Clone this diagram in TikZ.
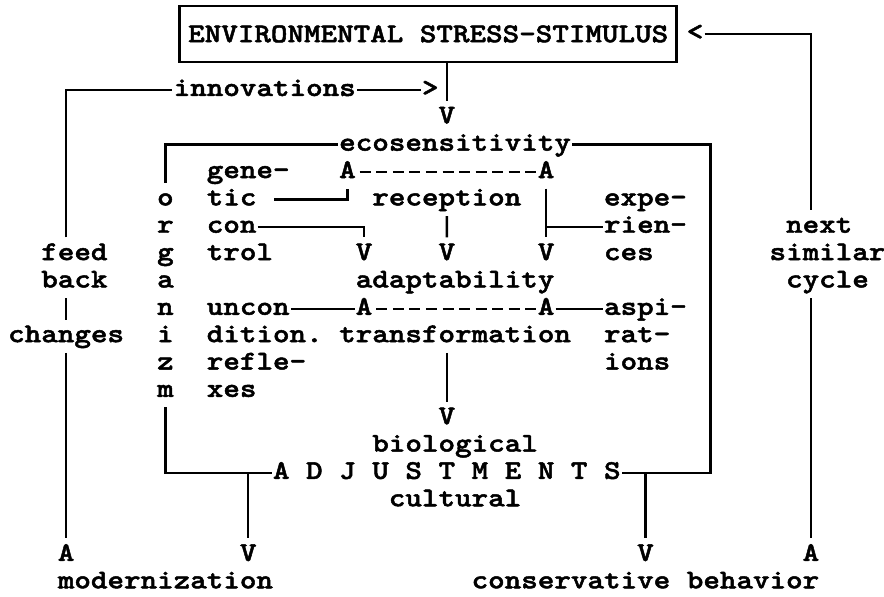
\documentclass[tikz,border=0pt]{standalone}
\usepackage{fontspec}
\newfontfamily\twfamily{lmmonolt10-bold.otf}[FakeBold=1.8, FakeStretch=1.165]
\newcommand{\twfont}{\fontsize{15.4}{15.4}\twfamily}
\tikzset{
  tw/.style={anchor=west, inner sep=0pt, text height=0.34cm, text depth=0.1cm, font=\twfont},
  typed/.style={dash pattern=on 0pt off 0.055cm on 0.22cm off 0.056cm},
  to text/.style={shorten >=2.5pt},
  from text/.style={shorten <=2.5pt},
  vlink/.style={shorten <=2.5pt, shorten >=2.5pt}
}
\begin{document}
\begin{tikzpicture}[x=0.331cm, y=0.547cm, line width=1.4pt]
    \useasboundingbox (-0.42,3.29) rectangle (52.99,-18.5);

    % Stimulus box
    \node[draw, font=\twfont, inner xsep=0.17cm, minimum height=1.12cm] (env) at (25.45,2.05) {ENVIRONMENTAL STRESS-STIMULUS};
    \node[tw] (lt) at (41,2.05) {<};

    % Top rows
    \node[tw] (innov) at (10,0) {innovations};
    \node[tw] (gt) at (25,0) {>};
    \node[tw] (v1) at (26,-1) {V};
    \node[tw] (eco) at (20,-2) {ecosensitivity};

    % organizm, written downwards
    \foreach \ch [count=\i from 4] in {o,r,g,a,n,i,z,m} {
        \node[tw] (org\i) at (9,-\i) {\ch};
    }

    % Feed back
    \node[tw] (feed) at (2,-6) {feed};
    \node[tw] (back) at (2,-7) {back};
    \node[tw] (chg) at (0,-9) {changes};

    % Genetic control and reception
    \node[tw] (gene) at (12,-3) {gene-};
    \node[tw] (tic) at (12,-4) {tic};
    \node[tw] (con) at (12,-5) {con};
    \node[tw] (trol) at (12,-6) {trol};
    \node[tw] (a1) at (20,-3) {A};
    \node[tw] (a2) at (32,-3) {A};
    \node[tw] (rec) at (22,-4) {reception};
    \node[tw] (v2) at (21,-6) {V};
    \node[tw] (v3) at (26,-6) {V};
    \node[tw] (v4) at (32,-6) {V};
    \node[tw] (expe) at (36,-4) {expe-};
    \node[tw] (rien) at (36,-5) {rien-};
    \node[tw] (ces) at (36,-6) {ces};
    \node[tw] (adapt) at (21,-7) {adaptability};

    % Reflexes and transformation
    \node[tw] (uncon) at (12,-8) {uncon};
    \node[tw] (dition) at (12,-9) {dition.};
    \node[tw] (refle) at (12,-10) {refle-};
    \node[tw] (xes) at (12,-11) {xes};
    \node[tw] (a3) at (21,-8) {A};
    \node[tw] (a4) at (32,-8) {A};
    \node[tw] (trans) at (20,-9) {transformation};
    \node[tw] (aspi) at (36,-8) {aspi-};
    \node[tw] (rat) at (36,-9) {rat-};
    \node[tw] (ions) at (36,-10) {ions};

    % Adjustments
    \node[tw] (v5) at (26,-12) {V};
    \node[tw] (bio) at (22,-13) {biological};
    \node[tw] (adj) at (16,-14) {A D J U S T M E N T S};
    \node[tw] (cult) at (23,-15) {cultural};
    \coordinate (rcorner) at (42.5,-14);

    % Next cycle
    \node[tw] (next) at (47,-5) {next};
    \node[tw] (sim) at (46,-6) {similar};
    \node[tw] (cyc) at (47,-7) {cycle};

    % Outcomes
    \node[tw] (b1) at (3,-17) {A};
    \node[tw] (b2) at (14,-17) {V};
    \node[tw] (b3) at (38,-17) {V};
    \node[tw] (b4) at (48,-17) {A};
    \node[tw] (mod) at (3,-18) {modernization};
    \node[tw] (cons) at (28,-18) {conservative behavior};

    % Connections
    \draw[to text] (env.south -| v1) -- (v1.north);
    \draw[to text] (lt.east) -| (b4 |- next.north);
    \draw[vlink] (cyc.south -| b4) -- (b4.north);
    \draw[from text] (feed.north -| b1) |- (innov.west);
    \draw (innov.east) -- (gt.west);
    \draw[vlink] (back.south -| b1) -- (chg.north -| b1);
    \draw[vlink] (chg.south -| b1) -- (b1.north);
    \draw[to text] (eco.west) -| (org4.north);
    \draw (eco.east) -| (rcorner) -- (adj.east);
    \draw[from text] (org11.south) |- (adj.west);
    \draw[to text] (b2 |- adj.west) -- (b2.north);
    \draw[to text] (b3 |- adj.east) -- (b3.north);
    \draw[to text] (tic.east) ++(1,0) -| (a1.south);
    \draw[to text] (con.east) -| (v2.north);
    \draw[typed] (a1.east) -- (a2.west);
    \draw[vlink] (a2.south) -- (v4.north);
    \draw (a2 |- rien.west) -- (rien.west);
    \draw[vlink] (rec.south) -- (v3.north);
    \draw (uncon.east) -- (a3.west);
    \draw[typed] (a3.east) -- (a4.west);
    \draw (a4.east) -- (aspi.west);
    \draw[vlink] (trans.south -| v5) -- (v5.north);
\end{tikzpicture}
\end{document}
